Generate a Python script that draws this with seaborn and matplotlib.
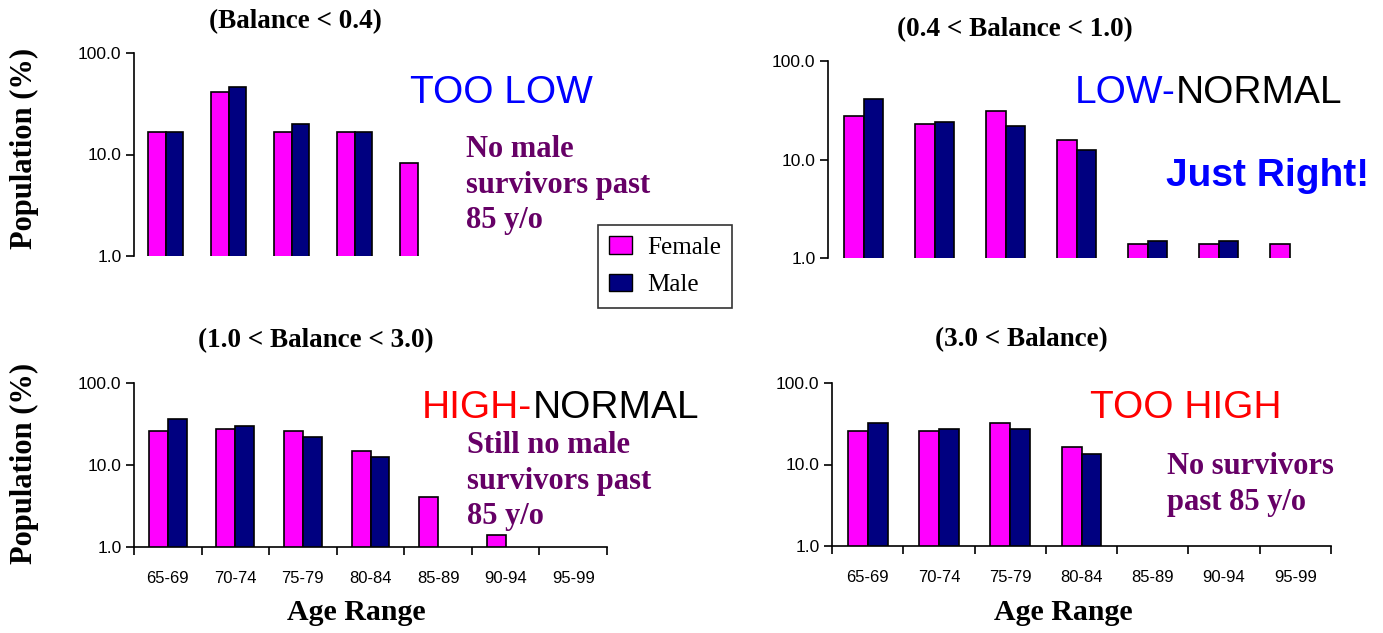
import numpy as np
import pandas as pd
import seaborn as sns
import matplotlib
matplotlib.use("Agg")
import matplotlib.pyplot as plt
from matplotlib.patches import Patch

ages = ["65-69", "70-74", "75-79", "80-84", "85-89", "90-94", "95-99"]
sexes = ["Female", "Male"]

# population share (%) per age range; None = no survivors
female_lt04 = [16.7, 41.7, 16.7, 16.7, 8.3, None, None]
male_lt04 = [16.7, 46.7, 20.0, 16.7, None, None, None]
female_04_10 = [27.7, 22.9, 31.1, 15.7, 1.4, 1.4, 1.4]
male_04_10 = [40.8, 23.9, 22.0, 12.5, 1.5, 1.5, None]
female_10_30 = [26.0, 27.3, 26.0, 14.9, 4.1, 1.4, None]
male_10_30 = [36.1, 29.9, 21.8, 12.6, None, None, None]
female_gt30 = [25.8, 25.8, 32.0, 16.2, None, None, None]
male_gt30 = [32.0, 27.2, 27.2, 13.4, None, None, None]

titles = ["(Balance < 0.4)", "(0.4 < Balance < 1.0)",
          "(1.0 < Balance < 3.0)", "(3.0 < Balance)"]

palette = {"Female": "#FF00FF", "Male": "#000080"}
purple = "#660066"
W, H = 1383, 633


def px(x, y):
    return x / W, 1 - y / H


def make_df(female, male):
    rows = []
    for age, f, m in zip(ages, female, male):
        if f is not None:
            rows.append([age, "Female", f])
        if m is not None:
            rows.append([age, "Male", m])
    return pd.DataFrame(rows, columns=["age", "sex", "pct"])


def panel(fig, rect, female, male, bottom_row):
    ax = fig.add_axes(rect)
    df = make_df(female, male)
    sns.barplot(data=df, x="age", y="pct", hue="sex", order=ages, hue_order=sexes,
                palette=palette, width=0.56, edgecolor="black", linewidth=1.2,
                saturation=1, legend=False, ax=ax)
    ax.set_yscale("log")
    ax.set_ylim(1, 100)
    ax.set_xlim(-0.5, len(ages) - 0.5)
    ax.set_yticks([1, 10, 100])
    ax.set_yticklabels(["1.0", "10.0", "100.0"], fontsize=12.5, family="Liberation Sans")
    ax.yaxis.set_minor_locator(matplotlib.ticker.NullLocator())
    ax.tick_params(axis="y", left=True, length=6, width=1.2, color="black", pad=3)
    ax.set_xlabel("")
    ax.set_ylabel("")
    for s in ["top", "right"]:
        ax.spines[s].set_visible(False)
    ax.spines["left"].set_linewidth(1.2)
    ax.spines["left"].set_color("black")
    if bottom_row:
        ax.spines["bottom"].set_linewidth(1.2)
        ax.spines["bottom"].set_color("black")
        ax.set_xticks(np.arange(len(ages) + 1) - 0.5, minor=False)
        ax.set_xticklabels([])
        ax.set_xticks(np.arange(len(ages)), minor=True)
        ax.set_xticklabels(ages, minor=True, family="Liberation Sans")
        ax.tick_params(axis="x", which="major", bottom=True, length=6, width=1.2,
                       color="black")
        ax.tick_params(axis="x", which="minor", bottom=True, length=0, pad=17,
                       labelsize=12)
    else:
        ax.spines["bottom"].set_visible(False)
        ax.set_xticks([])
    ax.set_facecolor("white")
    return ax


sns.set_theme(style="white")
plt.rcParams["font.family"] = ["Liberation Serif", "DejaVu Serif"]
plt.rcParams["text.color"] = "black"
plt.rcParams["xtick.color"] = "black"
plt.rcParams["ytick.color"] = "black"

fig = plt.figure(figsize=(W / 100, H / 100), dpi=100)
fig.patch.set_facecolor("white")

ax1 = panel(fig, [134 / W, 1 - 256 / H, 441 / W, 203 / H], female_lt04, male_lt04, False)
ax2 = panel(fig, [828 / W, 1 - 258 / H, 497 / W, 197 / H], female_04_10, male_04_10, False)
ax3 = panel(fig, [134 / W, 1 - 547 / H, 473 / W, 164 / H], female_10_30, male_10_30, True)
ax4 = panel(fig, [832 / W, 1 - 546 / H, 499 / W, 163 / H], female_gt30, male_gt30, True)

title_font = dict(fontsize=19.5, fontweight="bold", ha="center", va="center")
fig.text(*px(295, 22), titles[0], **title_font)
fig.text(*px(1015, 30), titles[1], **title_font)
fig.text(*px(316, 341), titles[2], **title_font)
fig.text(*px(1021, 340), titles[3], **title_font)

ylab = dict(fontsize=22, fontweight="bold", rotation=90, ha="center", va="center")
fig.text(*px(24, 148), "Population (%)", **ylab)
fig.text(*px(24, 463), "Population (%)", **ylab)

xlab = dict(fontsize=21.5, fontweight="bold", ha="center", va="center")
fig.text(*px(356, 612), "Age Range", **xlab)
fig.text(*px(1063, 613), "Age Range", **xlab)

big = dict(fontsize=28, family="Liberation Sans", va="center", ha="left")
renderer = fig.canvas.get_renderer()


def two_tone(x, y, first, second, c1, c2):
    t = fig.text(*px(x, y), first, color=c1, **big)
    bb = t.get_window_extent(renderer)
    fig.text(bb.x1 / W, 1 - y / H, second, color=c2, **big)


fig.text(*px(410, 93), "TOO LOW", color="#0000FF", **big)
two_tone(1075, 93, "LOW-", "NORMAL", "#0000FF", "black")
fig.text(*px(1166, 176), "Just Right!", color="#0000FF", fontweight="bold", **big)
two_tone(422, 408, "HIGH-", "NORMAL", "#FF0000", "black")
fig.text(*px(1090, 408), "TOO HIGH", color="#FF0000", **big)

note = dict(fontsize=22, fontweight="bold", color=purple, ha="left", va="top",
            linespacing=1.3)
fig.text(*px(466, 135), "No male\nsurvivors past\n85 y/o", **note)
fig.text(*px(467, 431), "Still no male\nsurvivors past\n85 y/o", **note)
fig.text(*px(1167, 452), "No survivors\npast 85 y/o", **note)

handles = [Patch(facecolor=palette[s], edgecolor="black", label=s) for s in sexes]
leg = fig.legend(handles=handles, loc="upper left", bbox_to_anchor=px(598, 225),
                 borderaxespad=0, frameon=True, fancybox=False, edgecolor="black",
                 fontsize=18, handlelength=0.9, handleheight=0.7, handletextpad=0.6,
                 labelspacing=0.6, borderpad=0.45)
leg.get_frame().set_linewidth(1.2)
for t in leg.get_texts():
    t.set_color("black")

fig.savefig("out.png", dpi=100, facecolor="white")
